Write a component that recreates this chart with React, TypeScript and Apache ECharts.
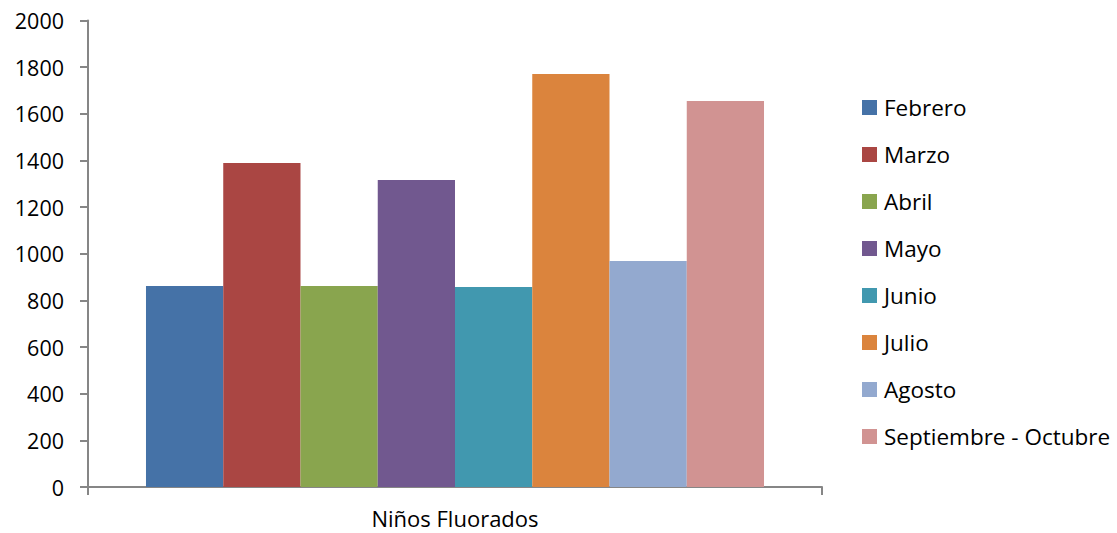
import React, { useEffect, useRef } from "react";
import * as echarts from "echarts";

const categories = ["Niños Fluorados"];
const seriesNames = [
  "Febrero",
  "Marzo",
  "Abril",
  "Mayo",
  "Junio",
  "Julio",
  "Agosto",
  "Septiembre - Octubre",
];
const seriesValues = [862, 1389, 862, 1316, 857, 1771, 969, 1655];
const seriesColors = [
  "#4572A7",
  "#AA4643",
  "#89A54E",
  "#71588F",
  "#4198AF",
  "#DB843D",
  "#93A9CF",
  "#D19392",
];
const yTicks = { min: 0, max: 2000, interval: 200 };

const FONT = "'Open Sans', Lato, sans-serif";
const AXIS_GRAY = "#868686";

export default function App() {
  const ref = useRef<HTMLDivElement>(null);

  useEffect(() => {
    if (!ref.current) return;
    const chart = echarts.init(ref.current, undefined, { renderer: "svg" });
    chart.setOption({
      animation: false,
      backgroundColor: "#ffffff",
      textStyle: { fontFamily: FONT },
      grid: { left: 88, right: 295, top: 20.5, bottom: 46, containLabel: false },
      legend: {
        orient: "vertical",
        left: 862,
        top: 96,
        itemWidth: 15,
        itemHeight: 15,
        itemGap: 24,
        icon: "rect",
        padding: 0,
        textStyle: { fontSize: 22.5, color: "#000", fontFamily: FONT, lineHeight: 22, padding: [0, 0, 0, 2] },
        data: seriesNames,
      },
      xAxis: {
        type: "category",
        data: categories,
        axisLine: { lineStyle: { color: AXIS_GRAY, width: 2 } },
        axisTick: { show: true, length: 8, lineStyle: { color: AXIS_GRAY, width: 2 } },
        axisLabel: { color: "#000", fontSize: 22, lineHeight: 22, margin: 20, fontFamily: FONT },
        splitLine: { show: false },
      },
      yAxis: {
        type: "value",
        min: yTicks.min,
        max: yTicks.max,
        interval: yTicks.interval,
        axisLine: { show: true, lineStyle: { color: AXIS_GRAY, width: 2 } },
        axisTick: { show: true, length: 8, lineStyle: { color: AXIS_GRAY, width: 2 } },
        axisLabel: {
          color: "#000",
          fontSize: 21.5,
          margin: 24,
          fontFamily: FONT,
          formatter: (v: number) => String(v),
        },
        splitLine: { show: false },
      },
      series: seriesNames.map((name, i) => ({
        name,
        type: "bar",
        data: [seriesValues[i]],
        barGap: "0%",
        barCategoryGap: "15.8%",
        itemStyle: { color: seriesColors[i] },
      })),
    });
    return () => chart.dispose();
  }, []);

  return (
    <div
      ref={ref}
      style={{ position: "absolute", left: 0, top: 0, width: 1117, height: 533 }}
    />
  );
}
